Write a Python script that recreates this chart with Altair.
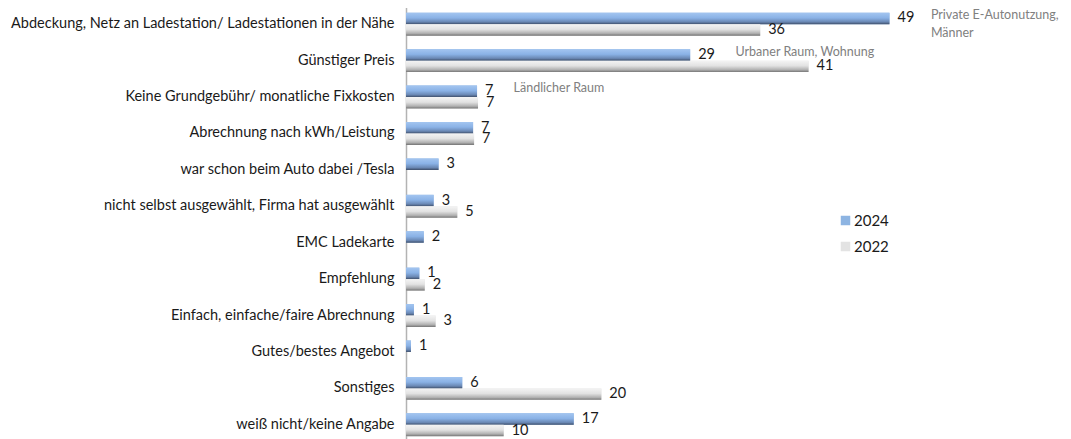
import altair as alt
import pandas as pd

categories = [
    "Abdeckung, Netz an Ladestation/ Ladestationen in der Nähe",
    "Günstiger Preis",
    "Keine Grundgebühr/ monatliche Fixkosten",
    "Abrechnung nach kWh/Leistung",
    "war schon beim Auto dabei /Tesla",
    "nicht selbst ausgewählt, Firma hat ausgewählt",
    "EMC Ladekarte",
    "Empfehlung",
    "Einfach, einfache/faire Abrechnung",
    "Gutes/bestes Angebot",
    "Sonstiges",
    "weiß nicht/keine Angabe",
]
years = ["2024", "2022"]
v2024 = [49.0, 28.8, 7.2, 6.8, 3.3, 2.8, 1.8, 1.35, 0.8, 0.5, 5.7, 17.0]
v2022 = [35.9, 40.8, 7.3, 6.9, None, 5.2, None, 1.9, 3.0, None, 19.8, 9.9]
l2024 = [49, 29, 7, 7, 3, 3, 2, 1, 1, 1, 6, 17]
l2022 = [36, 41, 7, 7, None, 5, None, 2, 3, None, 20, 10]

annot_cat = [categories[0], categories[1], categories[2]]
annot_x = [53.2, 33.4, 10.9]
annot_text = [["Private E-Autonutzung,", "Männer"], ["Urbaner Raum, Wohnung"], ["Ländlicher Raum"]]

rows = []
for c, a, b, la, lb in zip(categories, v2024, v2022, l2024, l2022):
    if a is not None:
        rows.append({"cat": c, "year": "2024", "v": a, "lab": str(la)})
    if b is not None:
        rows.append({"cat": c, "year": "2022", "v": b, "lab": str(lb)})
df = pd.DataFrame(rows)
adf = pd.DataFrame({"cat": annot_cat, "x": annot_x, "t": annot_text, "year": ["2024"] * 3})

FONT = "Lato"
y_enc = alt.Y("cat:N", sort=categories, title=None,
              scale=alt.Scale(paddingInner=0.37, paddingOuter=0.185),
              axis=alt.Axis(labelFont=FONT, labelFontSize=14.5, labelColor="#1a1a1a",
                            ticks=False, labelPadding=12, domainColor="#b3b3b3",
                            domainWidth=1.5, labelLimit=500))
yoff = alt.YOffset("year:N", sort=years, scale=alt.Scale(domain=years))
x_enc = alt.X("v:Q", scale=alt.Scale(domain=[0, 60]), axis=None)

base = alt.Chart(df)

legend_layer = base.mark_bar().encode(
    y=y_enc, yOffset=yoff, x=x_enc,
    color=alt.Color("year:N", sort=years,
                    scale=alt.Scale(domain=years, range=["#8db4e2", "#e3e3e3"]),
                    legend=alt.Legend(title=None, orient="none", legendX=432, legendY=207,
                                      symbolType="square", symbolSize=90, symbolStrokeWidth=0,
                                      labelFont=FONT, labelFontSize=15, labelColor="#1a1a1a",
                                      rowPadding=10, padding=0, labelOffset=1)),
)

g24 = {"gradient": "linear", "x1": 0, "y1": 0, "x2": 0, "y2": 1,
       "stops": [{"offset": 0, "color": "#a3c5f0"}, {"offset": 0.45, "color": "#8ab2e6"},
                 {"offset": 0.8, "color": "#6a88b4"}, {"offset": 1, "color": "#3f4f6a"}]}
g22 = {"gradient": "linear", "x1": 0, "y1": 0, "x2": 0, "y2": 1,
       "stops": [{"offset": 0, "color": "#f4f4f4"}, {"offset": 0.45, "color": "#e2e2e2"},
                 {"offset": 0.8, "color": "#b0b0b0"}, {"offset": 1, "color": "#747474"}]}

grad_layer = base.mark_bar().encode(
    y=alt.Y("cat:N", sort=categories), yOffset=yoff, x=x_enc,
    fill=alt.condition("datum.year == '2024'", alt.value(g24), alt.value(g22)),
)

labels = base.mark_text(align="left", baseline="middle", dx=8, font=FONT,
                        fontSize=14.5, color="#1a1a1a").encode(
    y=alt.Y("cat:N", sort=categories), yOffset=yoff, x=x_enc, text="lab:N")

annots = alt.Chart(adf).mark_text(align="left", baseline="top", dy=-9, font=FONT,
                                  fontSize=12.5, color="#808080", lineHeight=18).encode(
    y=alt.Y("cat:N", sort=categories), yOffset=yoff,
    x=alt.X("x:Q", scale=alt.Scale(domain=[0, 60])), text="t")

chart = alt.layer(legend_layer, grad_layer, labels, annots).properties(
    width=592, height=437,
    autosize=alt.AutoSizeParams(type="none"),
    padding={"left": 398, "top": -2, "right": 65, "bottom": 0},
).configure_view(stroke=None)

chart.save("out.html", embed_options={"renderer": "svg", "actions": False})
